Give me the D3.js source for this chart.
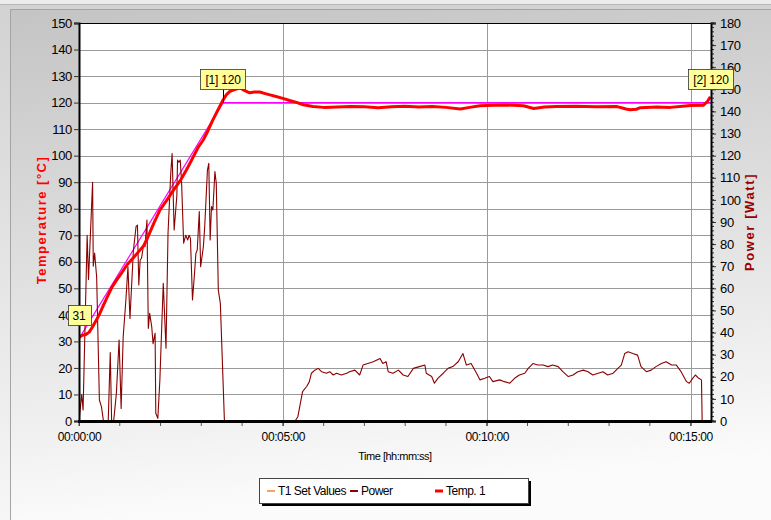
<!DOCTYPE html>
<html>
<head>
<meta charset="utf-8">
<script src="https://cdn.jsdelivr.net/npm/d3@7"></script>
<style>
  body { margin: 0; background: #fff; }
  svg { display: block; }
  text { font-family: "Liberation Sans", Arial, sans-serif; }
</style>
</head>
<body>
<svg id="chart" width="771" height="520"></svg>
<script>
// Set-point profile for T1 (seconds, °C)
const setTime  = [0, 212, 930];
const setValue = [31, 120, 120];

// Measured temperature, Temp. 1 (seconds, °C)
const tempTime  = [0, 5, 10, 15, 20, 25, 30, 36, 42, 48, 55, 62, 71, 80, 90, 95, 100, 110, 119, 130,
  139, 150, 158, 165, 175, 183, 190, 197, 205, 212, 217, 222, 230, 237, 244, 251, 258, 266, 274, 281,
  290, 300, 310, 320, 330, 344, 360, 380, 400, 420, 440, 460, 480, 500, 520, 540, 561, 575, 590, 610,
  630, 654, 669, 685, 703, 730, 760, 792, 805, 811, 820, 826, 850, 870, 888, 900, 919, 925, 929];
const tempValue = [31.5, 32.3, 32.6, 33.5, 35.5, 37.8, 40.2, 43.7, 47, 50.2, 53, 55.5, 59, 61.5, 64.5, 66, 68.5, 74.5, 79.5, 83.5,
  87, 91, 94.6, 98, 103, 106, 109.5, 113.5, 117.5, 121, 123, 124.2, 125, 125.5, 124.5, 123.7, 124, 124, 123.4, 122.9,
  122.3, 121.6, 120.8, 120.1, 119.2, 118.5, 118.2, 118.3, 118.5, 118.4, 118.1, 118.4, 118.6, 118.3, 118.5, 118.2, 117.6, 118.2, 118.8, 119,
  119.1, 118.8, 117.8, 118.3, 118.5, 118.6, 118.4, 118.5, 117.6, 117.3, 117.5, 118.1, 118.3, 118.2, 118.6, 118.9, 119, 120.5, 122.2];

// Heater power (seconds, W)
const powerTime  = [0, 4, 6, 12, 14, 20, 21, 23, 26, 30, 33, 36, 43, 46, 48, 51, 55, 59, 62, 65,
  69, 72, 75, 80, 84, 86, 88, 90, 92, 95, 97, 100, 102, 104, 107, 109, 112, 113, 116, 119,
  124, 128, 131, 135, 137, 140, 144, 145, 147, 149, 151, 154, 157, 160, 162, 164, 167, 170, 172, 174,
  177, 179, 183, 185, 189, 191, 193, 195, 197, 200, 202, 205, 208, 214, 318, 322, 329, 335, 339, 342,
  347, 352, 357, 364, 369, 374, 379, 386, 394, 398, 406, 413, 418, 425, 433, 443, 447, 452, 455, 462,
  470, 477, 484, 492, 501, 509, 511, 519, 523, 528, 536, 543, 550, 558, 565, 570, 577, 585, 590, 597,
  604, 609, 619, 626, 634, 641, 648, 656, 661, 668, 675, 683, 690, 697, 705, 712, 720, 727, 734, 742,
  749, 756, 764, 771, 778, 786, 793, 798, 803, 808, 815, 822, 827, 835, 842, 849, 857, 864, 872, 879,
  886, 894, 898, 903, 907, 912, 916, 917, 930];
const powerValue = [0, 12, 5, 84, 64, 108, 70, 76, 65, 9.5, 6.5, 0, 0, 31, 0, 0, 12.5, 36.6, 5.7, 38,
  54.7, 69.8, 46.4, 77, 88, 88.6, 61.5, 72.8, 73.6, 79.6, 78.8, 90.9, 41.9, 48.7, 42.7, 35, 39.7, 3.5, 1.2, 18.5,
  62.3, 32.9, 84.9, 112, 121, 86.4, 102, 118, 117, 118, 107.5, 80.4, 84, 81.9, 84, 82.6, 54.7, 66.8, 75.8, 77.3,
  94.7, 69.8, 78.8, 87.9, 113.5, 116.5, 81.9, 97, 95.4, 112.8, 107.5, 59.2, 53.2, 0, 0, 1.9, 13.3, 15.6, 17.8, 21.6,
  23, 23.8, 22.3, 21.6, 22.3, 20.8, 21.6, 20.8, 21.6, 22.3, 23, 20.8, 25.3, 26, 26.8, 28.3, 26, 26.8, 22.3, 21.6,
  23, 20.8, 20.1, 23.8, 24.6, 25.3, 21.6, 20.1, 17.1, 19.3, 21.6, 23.8, 24.6, 26.8, 30.5, 25.3, 26, 21.6, 18.6, 19.3,
  20.1, 17.8, 18.6, 17.8, 17.1, 19.3, 20.8, 21.6, 23.8, 26, 25.3, 25.3, 24.6, 25.3, 24.6, 22.3, 20.1, 20.8, 22.3, 23,
  22.3, 20.8, 21.6, 22.3, 20.8, 21.6, 23.8, 25.3, 30.5, 31.3, 30.5, 29.8, 24.6, 22.3, 23, 24.6, 26, 26.8, 25.3, 25.3,
  22.3, 17.8, 17.1, 19.3, 20.8, 19.3, 18.6, 0, 0];

// Axis ticks
const tempTicks  = d3.range(0, 151, 10);
const powerTicks = d3.range(0, 181, 10);
const powerMinor = d3.range(0, 181, 2);
const timeTicks  = [0, 300, 600, 900];
const timeMinor  = d3.range(0, 931, 60);

const legendItems = ["T1 Set Values", "Power", "Temp. 1"];

const svg = d3.select("#chart");
const W = 771, H = 520;
const plot = { left: 79, right: 711, top: 23, bottom: 421 };

const x  = d3.scaleLinear().domain([0, 930]).range([plot.left, plot.right]);
const yT = d3.scaleLinear().domain([0, 150]).range([plot.bottom, plot.top]);
const yP = d3.scaleLinear().domain([0, 180]).range([plot.bottom, plot.top]);

// Background panel
const defs = svg.append("defs");
const grad = defs.append("linearGradient").attr("id", "bg").attr("x1", 0).attr("y1", 0).attr("x2", 0.15).attr("y2", 1);
grad.append("stop").attr("offset", 0).attr("stop-color", "#c4c4c4");
grad.append("stop").attr("offset", 0.45).attr("stop-color", "#dcdcdc");
grad.append("stop").attr("offset", 0.85).attr("stop-color", "#f2f2f2");
grad.append("stop").attr("offset", 1).attr("stop-color", "#fbfbfb");
const grad2 = defs.append("linearGradient").attr("id", "bg2").attr("x1", 0).attr("y1", 0).attr("x2", 0).attr("y2", 1);
grad2.append("stop").attr("offset", 0).attr("stop-color", "#d2d2d2");
grad2.append("stop").attr("offset", 1).attr("stop-color", "#f6f6f6");

svg.append("rect").attr("width", W).attr("height", H).attr("fill", "#ececec");
svg.append("rect").attr("x", 0).attr("y", 4).attr("width", W).attr("height", H - 4).attr("fill", "url(#bg2)");
svg.append("line").attr("x1", 0).attr("x2", W).attr("y1", 4.5).attr("y2", 4.5).attr("stroke", "#b8b8b8");
svg.append("rect").attr("x", 10).attr("y", 9).attr("width", W - 10).attr("height", H - 9).attr("fill", "url(#bg)");
svg.append("path").attr("d", `M10.5,${H}V9.5H${W}`).attr("fill", "none").attr("stroke", "#a4a4a4");

// Plot area
svg.append("rect").attr("x", plot.left).attr("y", plot.top)
  .attr("width", plot.right - plot.left).attr("height", plot.bottom - plot.top).attr("fill", "#fff");

defs.append("clipPath").attr("id", "clip").append("rect")
  .attr("x", plot.left).attr("y", plot.top - 2)
  .attr("width", plot.right - plot.left).attr("height", plot.bottom - plot.top + 4);

// Grid
const grid = svg.append("g").attr("stroke", "#9a9a9a").attr("stroke-width", 1);
grid.selectAll("line.h").data(tempTicks.filter(d => d > 0)).join("line")
  .attr("x1", plot.left).attr("x2", plot.right)
  .attr("y1", d => Math.round(yT(d)) + 0.5).attr("y2", d => Math.round(yT(d)) + 0.5);
grid.selectAll("line.v").data(timeTicks.filter(d => d > 0)).join("line")
  .attr("y1", plot.top).attr("y2", plot.bottom)
  .attr("x1", d => Math.round(x(d)) + 0.5).attr("x2", d => Math.round(x(d)) + 0.5);
svg.append("line").attr("x1", plot.left).attr("x2", plot.right).attr("y1", plot.top + 0.5).attr("y2", plot.top + 0.5)
  .attr("stroke", "#000");

// Series
const series = svg.append("g").attr("clip-path", "url(#clip)");
const setLine = d3.line().x((d, i) => x(setTime[i])).y(d => yT(d));
series.append("path").datum(setValue).attr("d", setLine)
  .attr("fill", "none").attr("stroke", "#ff00ff").attr("stroke-width", 1.2);

const powerLine = d3.line().x((d, i) => x(powerTime[i])).y(d => yP(d));
series.append("path").datum(powerValue).attr("d", powerLine)
  .attr("fill", "none").attr("stroke", "#8b0000").attr("stroke-width", 1.1).attr("stroke-linejoin", "round");

const tempLine = d3.line().x((d, i) => x(tempTime[i])).y(d => yT(d));
series.append("path").datum(tempValue).attr("d", tempLine)
  .attr("fill", "none").attr("stroke", "#ff0000").attr("stroke-width", 3).attr("stroke-linejoin", "round");

// Axes
const fmtTime = s => {
  const h = Math.floor(s / 3600), m = Math.floor((s % 3600) / 60), sec = s % 60;
  return [h, m, sec].map(v => String(v).padStart(2, "0")).join(":");
};

const axL = svg.append("g").attr("transform", `translate(${plot.left},0)`)
  .call(d3.axisLeft(yT).tickValues(tempTicks).tickSize(5).tickPadding(2));
const axR = svg.append("g").attr("transform", `translate(${plot.right},0)`)
  .call(d3.axisRight(yP).tickValues(powerTicks).tickSize(5).tickPadding(4));
axR.selectAll("line.minor").data(powerMinor).join("line").attr("class", "minor")
  .attr("x1", 0).attr("x2", 3).attr("y1", d => yP(d)).attr("y2", d => yP(d))
  .attr("stroke", "#000").attr("stroke-width", 0.8);
const axB = svg.append("g").attr("transform", `translate(0,${plot.bottom})`)
  .call(d3.axisBottom(x).tickValues(timeTicks).tickFormat(fmtTime).tickSize(5).tickPadding(6));
axB.selectAll("line.minor").data(timeMinor).join("line").attr("class", "minor")
  .attr("x1", d => x(d)).attr("x2", d => x(d)).attr("y1", 0).attr("y2", 5)
  .attr("stroke", "#555").attr("stroke-width", 1);

[axL, axR, axB].forEach(a => {
  a.selectAll("text").attr("font-family", "Liberation Sans, Arial, sans-serif").attr("fill", "#000");
  a.selectAll(".tick line").attr("stroke", "#333");
});
axL.selectAll("text").attr("font-size", 13).attr("letter-spacing", "-0.3px");
axR.selectAll("text").attr("font-size", 13).attr("letter-spacing", "-0.3px");
axB.selectAll("text").attr("font-size", 12).attr("letter-spacing", "-0.4px");
axL.select(".domain").attr("stroke", "#000").attr("stroke-width", 2);
axR.select(".domain").attr("stroke", "#000").attr("stroke-width", 2);
axB.select(".domain").remove();
svg.append("line").attr("x1", plot.left - 1).attr("x2", plot.right + 1)
  .attr("y1", plot.bottom + 0.5).attr("y2", plot.bottom + 0.5)
  .attr("stroke", "#000").attr("stroke-width", 3);
// Redraw zero-power stretches over the axis line
series.append("path").datum(powerValue).attr("d", d3.line().defined(d => d === 0)
    .x((d, i) => x(powerTime[i])).y(d => yP(d)))
  .attr("fill", "none").attr("stroke", "#8b0000").attr("stroke-width", 1.4);

// Axis titles
svg.append("text").attr("transform", `translate(46,220) rotate(-90)`)
  .attr("text-anchor", "middle").attr("font-size", 13).attr("font-weight", "bold")
  .attr("letter-spacing", "1.5px").attr("fill", "#ff0000").text("Temperature [°C]");
svg.append("text").attr("transform", `translate(754,222) rotate(-90)`)
  .attr("text-anchor", "middle").attr("font-size", 13).attr("font-weight", "bold")
  .attr("letter-spacing", "1.6px").attr("fill", "#990000").text("Power [Watt]");
svg.append("text").attr("x", 395).attr("y", 460).attr("text-anchor", "middle")
  .attr("font-size", 11).attr("letter-spacing", "-0.5px").attr("fill", "#000").text("Time [hh:mm:ss]");

// Set-point labels
const labels = svg.append("g");
setValue.forEach((v, i) => {
  const px = x(setTime[i]), py = yT(v);
  const txt = i === 0 ? String(v) : `[${i}] ${v}`;
  const g = labels.append("g");
  g.append("line").attr("x1", Math.round(px) + 0.5).attr("x2", Math.round(px) + 0.5)
    .attr("y1", py - 14).attr("y2", py).attr("stroke", "#000").attr("stroke-width", 1);
  const t = g.append("text").attr("x", px).attr("y", py - 19).attr("text-anchor", "middle")
    .attr("font-size", 12).attr("letter-spacing", "-0.2px").attr("fill", "#000").text(txt);
  const w = t.node().getComputedTextLength() + 10;
  g.insert("rect", "text").attr("x", Math.round(px - w / 2) + 0.5).attr("y", Math.round(py - 34) + 0.5)
    .attr("width", Math.round(w)).attr("height", 20)
    .attr("fill", "#ffff99").attr("stroke", "#333").attr("stroke-width", 0.8);
});

// Legend
const lg = svg.append("g");
lg.append("rect").attr("x", 262).attr("y", 481).attr("width", 269).attr("height", 25).attr("fill", "#000");
lg.append("rect").attr("x", 259.5).attr("y", 478.5).attr("width", 269).attr("height", 25)
  .attr("fill", "#fff").attr("stroke", "#444").attr("stroke-width", 1);
const lgX = [267, 350, 435];
const lgColor = ["#ffa060", "#8b0000", "#ff0000"];
const lgWidth = [2, 2, 3];
legendItems.forEach((name, i) => {
  lg.append("line").attr("x1", lgX[i]).attr("x2", lgX[i] + 8).attr("y1", 491).attr("y2", 491)
    .attr("stroke", lgColor[i]).attr("stroke-width", lgWidth[i]);
  lg.append("text").attr("x", lgX[i] + 11).attr("y", 495).attr("font-size", 12)
    .attr("letter-spacing", "-0.5px").attr("fill", "#000").text(name);
});
</script>
</body>
</html>
